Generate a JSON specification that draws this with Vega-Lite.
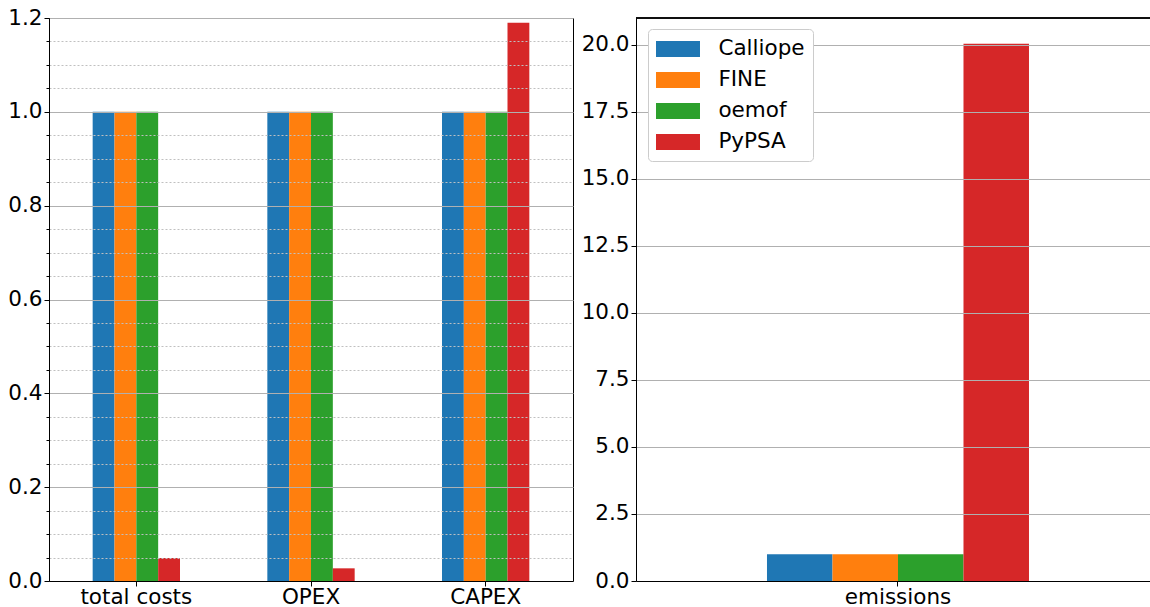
{
  "$schema": "https://vega.github.io/schema/vega-lite/v6.json",
  "padding": {"left": 7, "top": 6, "right": 0, "bottom": 0},
  "background": "white",
  "config": {
    "font": "DejaVu Sans",
    "view": {"stroke": "black", "strokeWidth": 1},
    "axis": {"labelFont": "DejaVu Sans", "labelFontSize": 21.5, "labelColor": "black", "domainColor": "black", "tickColor": "black", "tickSize": 5, "labelPadding": 2, "title": null}
  },
  "datasets": {
    "results": [
      {"metric": "total costs", "model": "Calliope", "value": 1.0},
      {"metric": "total costs", "model": "FINE", "value": 1.0},
      {"metric": "total costs", "model": "oemof", "value": 1.0},
      {"metric": "total costs", "model": "PyPSA", "value": 0.049},
      {"metric": "OPEX", "model": "Calliope", "value": 1.0},
      {"metric": "OPEX", "model": "FINE", "value": 1.0},
      {"metric": "OPEX", "model": "oemof", "value": 1.0},
      {"metric": "OPEX", "model": "PyPSA", "value": 0.027},
      {"metric": "CAPEX", "model": "Calliope", "value": 1.0},
      {"metric": "CAPEX", "model": "FINE", "value": 1.0},
      {"metric": "CAPEX", "model": "oemof", "value": 1.0},
      {"metric": "CAPEX", "model": "PyPSA", "value": 1.19},
      {"metric": "emissions", "model": "Calliope", "value": 1.0},
      {"metric": "emissions", "model": "FINE", "value": 1.0},
      {"metric": "emissions", "model": "oemof", "value": 1.0},
      {"metric": "emissions", "model": "PyPSA", "value": 20.04}
    ]
  },
  "spacing": 7,
  "resolve": {"scale": {"color": "independent", "xOffset": "independent", "x": "independent", "y": "independent"}},
  "hconcat": [
    {
      "width": 524,
      "height": 563,
      "data": {"name": "results"},
      "transform": [{"filter": "datum.metric !== 'emissions'"}],
      "mark": {"type": "bar"},
      "encoding": {
        "x": {"field": "metric", "type": "nominal", "sort": ["total costs", "OPEX", "CAPEX"],
              "scale": {"paddingInner": 0.5, "paddingOuter": 0.25},
              "axis": {"labelAngle": 0, "grid": false, "zindex": 2, "labelPadding": 0}},
        "xOffset": {"field": "model", "type": "nominal", "sort": ["Calliope", "FINE", "oemof", "PyPSA"],
                    "scale": {"paddingInner": 0, "paddingOuter": 0}},
        "y": {"field": "value", "type": "quantitative", "scale": {"domain": [0, 1.2], "nice": false, "zero": true},
              "axis": {
                "values": [0, 0.05, 0.1, 0.15, 0.2, 0.25, 0.3, 0.35, 0.4, 0.45, 0.5, 0.55, 0.6, 0.65, 0.7, 0.75, 0.8, 0.85, 0.9, 0.95, 1.0, 1.05, 1.1, 1.15, 1.2],
                "labelExpr": "abs(datum.value*5 - round(datum.value*5)) < 0.000001 ? format(datum.value, '.1f') : ''",
                "grid": true,
                "zindex": 1,
                "gridColor": {"condition": {"test": "abs(datum.value*5 - round(datum.value*5)) < 0.000001", "value": "#b0b0b0"}, "value": "#c0c0c0"},
                "gridDash": {"condition": {"test": "abs(datum.value*5 - round(datum.value*5)) < 0.000001", "value": []}, "value": [2, 2]},
                "gridWidth": 1,
                "tickSize": {"condition": {"test": "abs(datum.value*5 - round(datum.value*5)) < 0.000001", "value": 5}, "value": 3}
              }},
        "color": {"field": "model", "type": "nominal",
                  "scale": {"domain": ["Calliope", "FINE", "oemof", "PyPSA"], "range": ["#1f77b4", "#ff7f0e", "#2ca02c", "#d62728"]},
                  "legend": null}
      }
    },
    {
      "width": 514,
      "height": 563,
      "view": {"stroke": null},
      "data": {"name": "results"},
      "transform": [{"filter": "datum.metric === 'emissions'"}],
      "layer": [
        {
          "mark": {"type": "bar"},
          "encoding": {
            "x": {"field": "metric", "type": "nominal",
                  "scale": {"paddingInner": 0, "paddingOuter": 0.4809, "align": 0.5198},
                  "axis": {"labelAngle": 0, "grid": false, "zindex": 2, "labelPadding": 0}},
            "xOffset": {"field": "model", "type": "nominal", "sort": ["Calliope", "FINE", "oemof", "PyPSA"],
                        "scale": {"paddingInner": 0, "paddingOuter": 0}},
            "y": {"field": "value", "type": "quantitative", "scale": {"domain": [0, 21.0], "nice": false, "zero": true},
                  "axis": {"values": [0, 2.5, 5, 7.5, 10, 12.5, 15, 17.5, 20], "format": ".1f", "grid": true, "zindex": 1, "gridColor": "#b0b0b0", "gridWidth": 1}},
            "color": {"field": "model", "type": "nominal",
                      "scale": {"domain": ["Calliope", "FINE", "oemof", "PyPSA"], "range": ["#1f77b4", "#ff7f0e", "#2ca02c", "#d62728"]},
                      "legend": {
                        "orient": "none", "legendX": 12, "legendY": 11, "title": null, "zindex": 3,
                        "symbolType": "M-1.833,-0.667H1.833V0.667H-1.833Z",
                        "symbolSize": 576, "symbolOffset": 10, "symbolStrokeWidth": 0, "symbolOpacity": 1,
                        "labelFont": "DejaVu Sans", "labelFontSize": 21.5, "labelColor": "black", "labelOffset": 28.4,
                        "rowPadding": 8, "padding": 8, "strokeColor": "#cccccc", "cornerRadius": 4,
                        "fillColor": "white", "labelLimit": 300
                      }}
          }
        },
        {
          "mark": {"type": "rule", "color": "black", "strokeWidth": 1},
          "encoding": {"y": {"datum": 21.0}}
        }
      ]
    }
  ]
}
